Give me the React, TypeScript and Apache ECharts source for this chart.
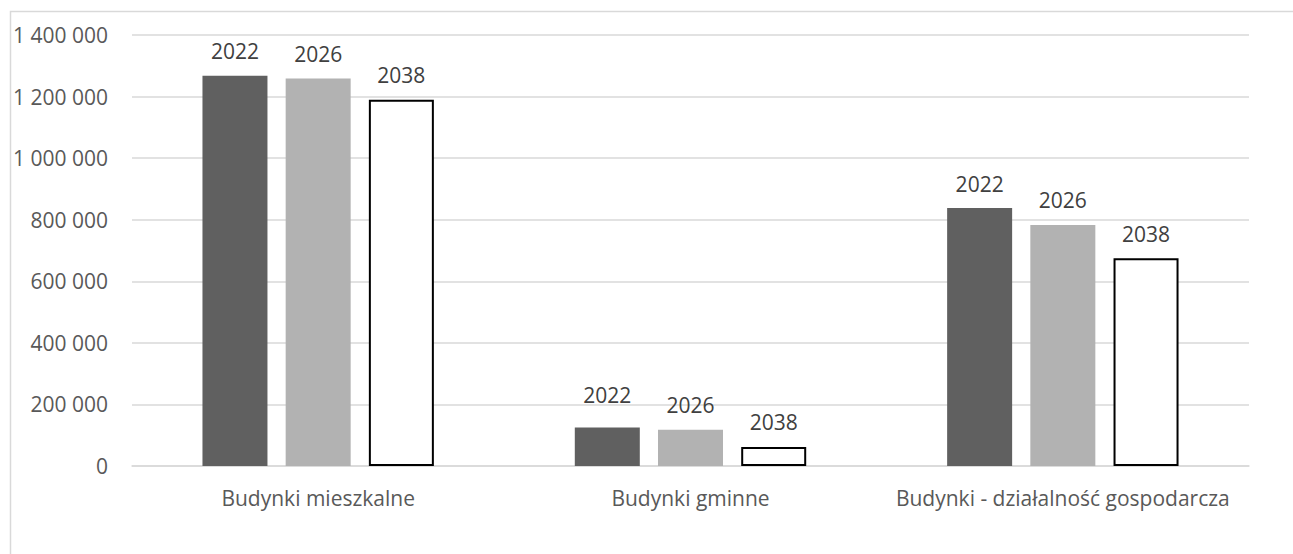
import React, { useEffect, useRef } from "react";
import * as echarts from "echarts";

const categories = ["Budynki mieszkalne", "Budynki gminne", "Budynki - działalność gospodarcza"];
const years = ["2022", "2026", "2038"];
const values2022 = [1268000, 125000, 838000];
const values2026 = [1259000, 118000, 783000];
const values2038 = [1190000, 62000, 675000];
const yTicks = { min: 0, max: 1400000, interval: 200000 };

const FONT = "'Open Sans', sans-serif";
const FS = 21;

export default function App() {
  const ref = useRef<HTMLDivElement>(null);
  useEffect(() => {
    if (!ref.current) return;
    const chart = echarts.init(ref.current, undefined, { renderer: "svg" });
    const label = {
      show: true,
      position: "top" as const,
      distance: 14,
      color: "#404040",
      fontSize: FS,
      fontFamily: FONT,
      formatter: (p: any) => p.seriesName,
    };
    const fills = ["#606060", "#b2b2b2", "#ffffff"];
    const data = [values2022, values2026, values2038];
    chart.setOption({
      animation: false,
      backgroundColor: "#ffffff",
      textStyle: { fontFamily: FONT },
      graphic: [
        {
          type: "rect",
          shape: { x: 10.5, y: 11.5, width: 1400, height: 700 },
          style: { fill: "none", stroke: "#d9d9d9", lineWidth: 1.5 },
          silent: true,
        },
      ],
      grid: { left: 132, right: 44, top: 35, bottom: 88 },
      xAxis: {
        type: "category",
        data: categories,
        axisLine: { show: true, lineStyle: { color: "#d9d9d9", width: 1.5 } },
        axisTick: { show: false },
        axisLabel: { color: "#595959", fontSize: FS, fontFamily: FONT, margin: 21, interval: 0 },
      },
      yAxis: {
        type: "value",
        min: yTicks.min,
        max: yTicks.max,
        interval: yTicks.interval,
        axisLine: { show: false },
        axisTick: { show: false },
        splitLine: { lineStyle: { color: "#d9d9d9", width: 1.5 } },
        axisLabel: {
          color: "#595959",
          fontSize: FS,
          fontFamily: FONT,
          margin: 24,
          formatter: (v: number) => String(v).replace(/\B(?=(\d{3})+(?!\d))/g, " "),
        },
      },
      series: years.map((y, i) => ({
        name: y,
        type: "bar",
        data: data[i].map((v, j) =>
          i === 0 && j === 1 ? { value: v, label: { offset: [0, -8] } } : v
        ),
        barWidth: 65,
        barGap: "28%",
        itemStyle:
          i === 2
            ? { color: fills[i], borderColor: "#000000", borderWidth: 2 }
            : { color: fills[i] },
        label,
      })),
    });
    return () => chart.dispose();
  }, []);
  return (
    <div
      ref={ref}
      style={{ position: "fixed", left: 0, top: 0, width: 1293, height: 554 }}
    />
  );
}
